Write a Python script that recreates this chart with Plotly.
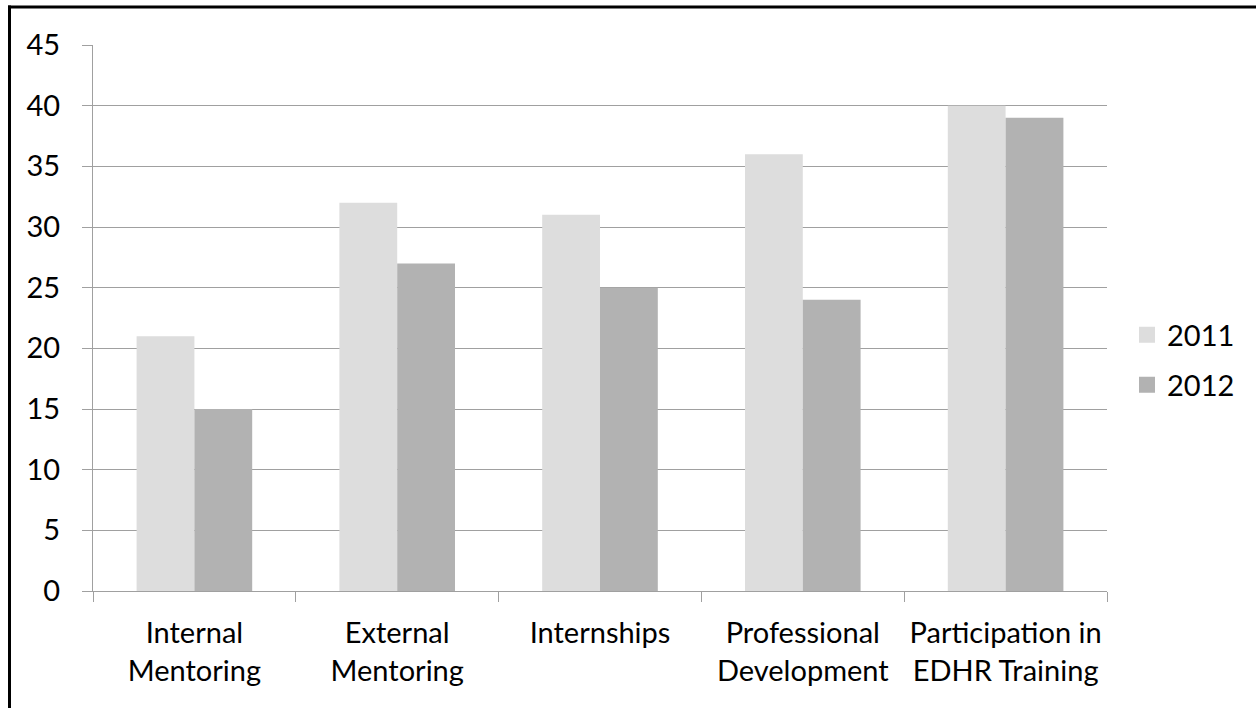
import plotly.graph_objects as go

categories = ["Internal<br>Mentoring", "External<br>Mentoring", "Internships",
              "Professional<br>Development", "Participation in<br>EDHR Training"]
series_names = ["2011", "2012"]
values_2011 = [21, 32, 31, 36, 40]
values_2012 = [15, 27, 25, 24, 39]
y_ticks = [0, 5, 10, 15, 20, 25, 30, 35, 40, 45]

colors = ["#DDDDDD", "#B2B2B2"]
FONT = "Lato"
FS = 29
W, H = 1256, 708
ML, MR, MT, MB = 93, 149, 45, 117
PW, PH = W - ML - MR, H - MT - MB

def px2x(px):
    return (px - ML) / PW

def px2y(py):
    return (H - MB - py) / PH

fig = go.Figure()
for i, (name, vals) in enumerate(zip(series_names, [values_2011, values_2012])):
    fig.add_trace(go.Bar(x=categories, y=vals, name=name, marker_color=colors[i],
                         marker_line_width=0, showlegend=False))
    fig.add_trace(go.Scatter(x=[None], y=[None], mode="markers", name=name,
                             marker=dict(symbol="square", size=18, color=colors[i]),
                             legend="legend" if i == 0 else "legend2"))

legend_common = dict(font=dict(family=FONT, size=FS, color="#000000"),
                     bgcolor="rgba(0,0,0,0)", xanchor="left", yanchor="middle",
                     itemwidth=30)

fig.update_layout(
    width=W, height=H,
    margin=dict(l=ML, r=MR, t=MT, b=MB, pad=0),
    paper_bgcolor="white", plot_bgcolor="white",
    barmode="group", bargap=0.43, bargroupgap=0,
    font=dict(family=FONT, size=FS, color="#000000"),
    legend=dict(x=px2x(1127), y=px2y(335), **legend_common),
    legend2=dict(x=px2x(1127), y=px2y(385), **legend_common),
    xaxis=dict(showline=True, linecolor="#A0A0A0", linewidth=1,
               ticks="outside", ticklen=10, tickcolor="#A0A0A0", tickson="boundaries",
               showgrid=False, tickfont=dict(family=FONT, size=FS, color="#000000"),
               ticklabelstandoff=16),
    yaxis=dict(range=[0, 45], tickvals=y_ticks, showline=True, linecolor="#A0A0A0",
               linewidth=1, showgrid=True, gridcolor="#A0A0A0", gridwidth=1,
               zeroline=False, ticks="outside", ticklen=10, tickcolor="#A0A0A0",
               tickfont=dict(family=FONT, size=FS, color="#000000"),
               ticklabelstandoff=16),
    shapes=[
        dict(type="line", xref="paper", yref="paper", x0=px2x(8), x1=px2x(1300),
             y0=px2y(7), y1=px2y(7), line=dict(color="black", width=3)),
        dict(type="line", xref="paper", yref="paper", x0=px2x(9.5), x1=px2x(9.5),
             y0=px2y(5.5), y1=px2y(760), line=dict(color="black", width=3)),
    ],
)

fig.write_html("out.html")
